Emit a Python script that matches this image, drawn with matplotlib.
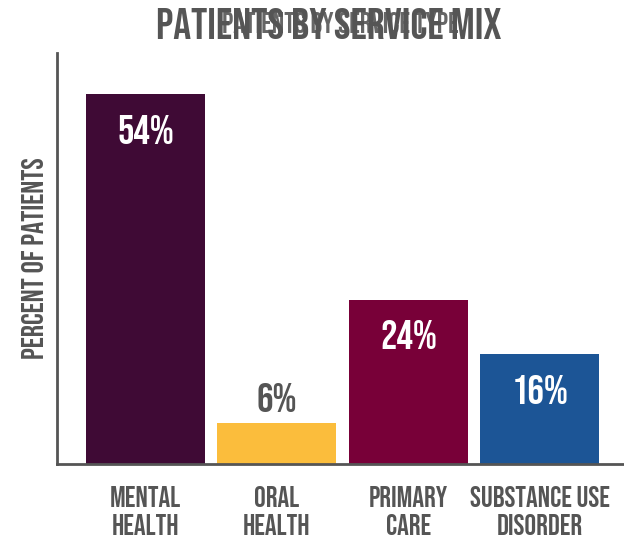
import matplotlib
matplotlib.use("Agg")
import matplotlib.pyplot as plt

plt.rcParams['font.family'] = ['Bebas Neue', 'DejaVu Sans']

categories = ["MENTAL\nHEALTH", "ORAL\nHEALTH", "PRIMARY\nCARE", "SUBSTANCE USE\nDISORDER"]
values = [54, 6, 24, 16]
colors = ["#3f0a35", "#fbbd3c", "#780038", "#1c5596"]
labels = ["54%", "6%", "24%", "16%"]
grey = "#555555"

fig = plt.figure(figsize=(6.24, 5.45), dpi=100)
ax = fig.add_axes([0.0913, 0.1486, 0.9087, 0.7542])
x = range(len(values))
ax.bar(x, values, width=0.905, color=colors)
ax.set_xlim(-0.673, 3.639)
ax.set_ylim(0, 60)

# value labels: inside tall bars, above the short one
for i, v in enumerate(values):
    if v > 10:
        ax.text(i, v - 5.1, labels[i], ha="center", va="center", color="white", fontsize=29.5)
    else:
        ax.text(i, v + 3.7, labels[i], ha="center", va="center", color=grey, fontsize=29.5)

ax.set_xticks(list(x))
ax.set_xticklabels(categories, fontsize=21, color=grey, linespacing=1.32)
ax.tick_params(axis="x", length=0, pad=16)
ax.set_yticks([])
for s in ["top", "right"]:
    ax.spines[s].set_visible(False)
for s in ["left", "bottom"]:
    ax.spines[s].set_color(grey)
    ax.spines[s].set_linewidth(2)
ax.set_ylabel("PERCENT OF PATIENTS", fontsize=22, color=grey, labelpad=9)

fig.text(0.527, 0.957, "PATIENTS BY SERVICE MIX", ha="center", va="center",
         fontsize=32, color=grey)
fig.text(0.545, 0.958, "PATIENTS BY SERVICE TYPE", ha="center", va="center",
         fontsize=21, color=grey, alpha=0.9)

fig.savefig("out.png", dpi=100)
